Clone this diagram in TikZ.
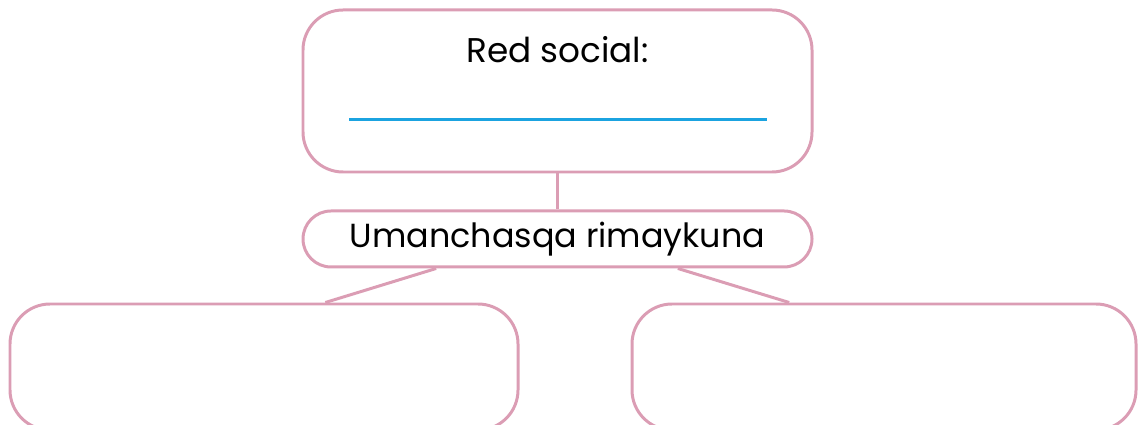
\documentclass[tikz,border=0pt]{standalone}
\usepackage{fontspec}
\setmainfont{Poppins}
\usetikzlibrary{calc,positioning}
\definecolor{RosePink}{HTML}{DB9DB4}
\definecolor{LineBlue}{HTML}{1BA3E0}

\begin{document}
\begin{tikzpicture}[node distance=.72cm,
    box/.style={draw=RosePink,line width=1.7pt,rounded corners=.8cm,minimum width=10.18cm},
    link/.style={draw=RosePink,line width=1.7pt}]
    \useasboundingbox (0,0) rectangle (22.76,-8.5);
    \node[box,minimum height=3.24cm] (social) at (11.15,-1.82) {};
    \node[font=\fontsize{19.5}{22}\selectfont] (sociallabel) at ($(social.north)+(0,-.82)$) {Red social:};
    \draw[LineBlue,line width=1.6pt] ($(social.north)+(-4.17,-2.22)$) -- ($(social.north)+(4.19,-2.22)$);
    \node[box,rounded corners=.56cm,minimum height=1.12cm,below=of social,
          font=\fontsize{19}{22}\selectfont] (umanchasqa) {Umanchasqa rimaykuna};
    \node[box,minimum width=10.16cm,minimum height=2.52cm] (left) at (5.28,-7.34) {};
    \node[box,minimum width=10.08cm,minimum height=2.52cm] (right) at (17.68,-7.34) {};
    \draw[link] (social) -- (umanchasqa);
    \draw[link] ($(umanchasqa.south west)!.263!(umanchasqa.south east)$) -- ($(left.north west)!.62!(left.north east)$);
    \draw[link] ($(umanchasqa.south west)!.735!(umanchasqa.south east)$) -- ($(right.north west)!.313!(right.north east)$);
\end{tikzpicture}
\end{document}
